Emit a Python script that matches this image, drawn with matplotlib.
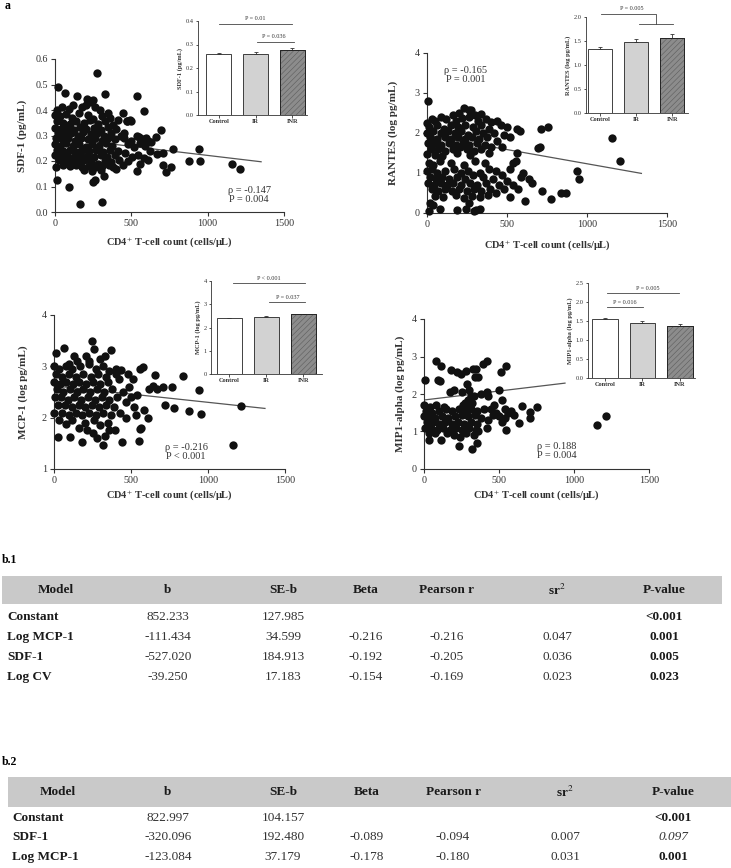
import matplotlib

matplotlib.use("Agg")
import matplotlib.pyplot as plt
from matplotlib.patches import Rectangle

plt.rcParams["font.family"] = ["Liberation Serif", "DejaVu Serif"]
plt.rcParams["mathtext.fontset"] = "stix"
plt.rcParams["hatch.linewidth"] = 0.4

W, H = 731, 868

GROUPS = ["Control", "IR", "INR"]
CD4_TICKS = [0, 500, 1000, 1500]

# --- SDF-1 ---
SDF1_CD4 = [
    277, 22, 65, 142, 211, 327, 540, 582, 235, 250,
    10, 45, 90, 120, 175, 200, 265, 295, 345, 445,
    0, 30, 70, 110, 160, 215, 250, 310, 360, 470,
    15, 55, 95, 135, 190, 230, 280, 330, 380, 490,
    0, 40, 80, 125, 165, 205, 255, 300, 350, 400,
    20, 60, 105, 150, 185, 235, 275, 320, 370, 430,
    5, 45, 85, 130, 170, 215, 260, 305, 345, 395,
    450, 500, 535, 560, 610, 632, 660, 597, 520, 475,
    0, 30, 70, 115, 160, 200, 245, 290, 335, 375,
    15, 55, 100, 140, 180, 225, 270, 315, 360, 415,
    0, 40, 80, 125, 165, 210, 255, 300, 340, 390,
    25, 65, 110, 150, 190, 235, 280, 325, 370, 420,
    50, 95, 140, 180, 220, 265, 310, 355, 400, 445,
    460, 505, 545, 580, 620, 665, 708, 480, 555, 590,
    190, 240, 300, 380, 538, 706, 724, 758, 693, 774,
    7, 11, 94, 164, 305, 250, 262, 320, 878, 944,
    952, 1160, 1210, 610, 469, 497, 551, 578, 410, 455,
]
SDF1_LEVEL = [
    0.545, 0.49, 0.466, 0.453, 0.445, 0.462, 0.456, 0.397, 0.43, 0.44,
    0.40, 0.41, 0.405, 0.42, 0.41, 0.42, 0.41, 0.40, 0.39, 0.39,
    0.38, 0.375, 0.385, 0.37, 0.39, 0.38, 0.365, 0.375, 0.37, 0.355,
    0.355, 0.35, 0.345, 0.355, 0.35, 0.36, 0.345, 0.355, 0.34, 0.36,
    0.33, 0.325, 0.33, 0.32, 0.335, 0.325, 0.33, 0.32, 0.335, 0.325,
    0.31, 0.305, 0.31, 0.30, 0.315, 0.305, 0.31, 0.30, 0.31, 0.30,
    0.29, 0.285, 0.29, 0.28, 0.29, 0.285, 0.29, 0.28, 0.29, 0.285,
    0.29, 0.28, 0.30, 0.27, 0.28, 0.276, 0.293, 0.29, 0.255, 0.265,
    0.265, 0.26, 0.27, 0.26, 0.265, 0.255, 0.265, 0.26, 0.27, 0.26,
    0.245, 0.24, 0.245, 0.235, 0.245, 0.24, 0.245, 0.235, 0.245, 0.24,
    0.225, 0.22, 0.225, 0.215, 0.225, 0.22, 0.215, 0.225, 0.215, 0.225,
    0.205, 0.20, 0.205, 0.195, 0.205, 0.20, 0.19, 0.20, 0.195, 0.205,
    0.185, 0.18, 0.185, 0.175, 0.18, 0.175, 0.18, 0.185, 0.17, 0.185,
    0.23, 0.215, 0.225, 0.21, 0.24, 0.226, 0.23, 0.20, 0.19, 0.26,
    0.165, 0.16, 0.165, 0.175, 0.16, 0.186, 0.158, 0.177, 0.322, 0.247,
    0.177, 0.127, 0.098, 0.030, 0.038, 0.118, 0.125, 0.14, 0.201, 0.247,
    0.200, 0.188, 0.168, 0.204, 0.355, 0.355, 0.295, 0.285, 0.36, 0.31,
]
SDF1_FIT_X = [0, 1350]
SDF1_FIT_Y = [0.293, 0.197]
SDF1_TICKS = [0.0, 0.1, 0.2, 0.3, 0.4, 0.5, 0.6]
SDF1_MEAN = [0.259, 0.261, 0.277]
SDF1_SEM = [0.004, 0.008, 0.006]
SDF1_INSET_TICKS = [0.0, 0.1, 0.2, 0.3, 0.4]

# --- RANTES ---
RANTES_CD4 = [
    6, 230, 260, 278, 200, 300, 160, 340, 90, 30,
    0, 50, 120, 180, 220, 260, 320, 370, 400, 440,
    15, 65, 105, 150, 195, 240, 285, 335, 385, 460,
    0, 40, 85, 130, 175, 215, 255, 305, 350, 420,
    20, 60, 110, 150, 195, 240, 280, 325, 375, 480,
    5, 45, 90, 135, 180, 225, 265, 310, 360, 440,
    25, 70, 115, 160, 205, 250, 295, 340, 400, 470,
    0, 50, 95, 185, 270, 385, 520, 560, 580, 500,
    10, 40, 80, 150, 230, 300, 360, 540, 555, 520,
    0, 30, 65, 110, 170, 210, 255, 330, 390, 430,
    20, 55, 95, 135, 190, 240, 285, 350, 410, 470,
    5, 45, 85, 125, 165, 215, 270, 310, 370, 450,
    30, 70, 115, 155, 200, 250, 295, 340, 395, 500,
    50, 100, 180, 230, 280, 330, 380, 430, 480, 540,
    12, 79, 188, 246, 294, 309, 330, 20, 40, 260,
    1159, 1207, 940, 950, 773, 836, 869, 710, 758, 696,
    705, 610, 716, 654, 640, 570, 590, 520, 600, 560,
]
RANTES_LEVEL = [
    2.80, 2.62, 2.58, 2.58, 2.50, 2.45, 2.45, 2.47, 2.40, 2.35,
    2.25, 2.30, 2.35, 2.30, 2.38, 2.40, 2.30, 2.35, 2.28, 2.30,
    2.15, 2.20, 2.10, 2.20, 2.15, 2.20, 2.15, 2.20, 2.10, 2.20,
    2.00, 2.05, 2.00, 2.05, 2.00, 2.05, 1.95, 2.05, 2.00, 2.00,
    1.90, 1.85, 1.90, 1.85, 1.90, 1.85, 1.90, 1.85, 1.90, 1.95,
    1.75, 1.75, 1.70, 1.75, 1.70, 1.75, 1.70, 1.75, 1.70, 1.80,
    1.60, 1.60, 1.55, 1.60, 1.65, 1.60, 1.55, 1.60, 1.65, 1.65,
    1.48, 1.45, 1.42, 1.50, 1.45, 1.50, 1.90, 2.10, 2.05, 2.15,
    1.25, 1.20, 1.30, 1.25, 1.20, 1.30, 1.25, 1.25, 1.30, 1.10,
    1.05, 1.10, 1.00, 1.05, 1.10, 1.00, 1.05, 1.00, 1.10, 1.05,
    0.90, 0.85, 0.90, 0.85, 0.90, 0.85, 0.95, 0.90, 0.85, 0.95,
    0.75, 0.70, 0.75, 0.70, 0.75, 0.70, 0.75, 0.70, 0.75, 0.70,
    0.60, 0.55, 0.60, 0.55, 0.60, 0.55, 0.60, 0.55, 0.60, 0.80,
    0.42, 0.40, 0.45, 0.38, 0.42, 0.40, 0.45, 0.50, 0.60, 0.70,
    0.05, 0.11, 0.08, 0.11, 0.05, 0.07, 0.11, 0.25, 0.20, 0.25,
    1.87, 1.31, 1.05, 0.86, 0.36, 0.49, 0.49, 2.09, 2.14, 1.63,
    1.64, 0.29, 0.55, 0.75, 0.85, 0.60, 0.90, 0.40, 1.00, 1.50,
]
RANTES_FIT_X = [0, 1340]
RANTES_FIT_Y = [1.94, 0.99]
RANTES_TICKS = [0, 1, 2, 3, 4]
RANTES_MEAN = [1.34, 1.47, 1.57]
RANTES_SEM = [0.04, 0.07, 0.08]
RANTES_INSET_TICKS = [0.0, 0.5, 1.0, 1.5, 2.0]

# --- MCP-1 ---
MCP1_CD4 = [
    247, 260, 369, 65, 11, 210, 300, 150, 100, 330,
    0, 35, 75, 120, 170, 225, 270, 315, 360, 438,
    15, 55, 95, 140, 190, 240, 285, 335, 400, 481,
    0, 40, 80, 125, 165, 210, 255, 300, 350, 420,
    20, 60, 105, 150, 190, 235, 280, 325, 375, 450,
    5, 45, 90, 130, 175, 220, 265, 310, 360, 410,
    25, 70, 115, 160, 200, 245, 290, 340, 390, 470,
    0, 50, 95, 140, 185, 230, 275, 320, 370, 430,
    30, 120, 200, 260, 350, 76, 215, 395, 300, 160,
    26, 102, 184, 319, 444, 551, 557, 568, 583, 611,
    575, 557, 655, 666, 705, 763, 724, 778, 839, 878,
    943, 956, 1164, 1212, 500, 520, 540, 490, 530, 470,
    250, 330, 360, 280, 230, 130, 400, 510, 620, 640,
]
MCP1_LEVEL = [
    3.49, 3.34, 3.31, 3.36, 3.25, 3.20, 3.15, 3.10, 3.05, 3.20,
    3.00, 2.95, 3.00, 2.95, 3.00, 3.05, 2.95, 3.00, 2.90, 2.93,
    2.85, 2.80, 2.85, 2.80, 2.85, 2.80, 2.85, 2.80, 2.85, 2.86,
    2.70, 2.65, 2.70, 2.65, 2.70, 2.65, 2.70, 2.65, 2.70, 2.75,
    2.55, 2.50, 2.55, 2.50, 2.55, 2.50, 2.55, 2.50, 2.55, 2.50,
    2.40, 2.40, 2.35, 2.40, 2.35, 2.40, 2.35, 2.40, 2.35, 2.40,
    2.25, 2.25, 2.20, 2.25, 2.20, 2.25, 2.20, 2.25, 2.20, 2.30,
    2.10, 2.10, 2.05, 2.10, 2.05, 2.10, 2.05, 2.10, 2.05, 2.10,
    1.95, 1.95, 1.90, 1.95, 1.90, 1.87, 1.76, 1.76, 1.85, 1.80,
    1.62, 1.62, 1.52, 1.46, 1.52, 1.54, 1.78, 1.80, 2.15, 1.99,
    2.98, 2.94, 2.84, 2.56, 2.60, 2.60, 2.24, 2.19, 2.82, 2.13,
    2.53, 2.07, 1.47, 2.23, 2.40, 2.20, 2.45, 2.60, 2.05, 2.00,
    1.70, 1.65, 1.75, 1.60, 3.10, 3.20, 2.95, 2.75, 2.55, 2.62,
]
MCP1_FIT_X = [0, 1370]
MCP1_FIT_Y = [2.62, 2.18]
MCP1_TICKS = [1, 2, 3, 4]
MCP1_MEAN = [2.39, 2.46, 2.56]
MCP1_SEM = [0.03, 0.02, 0.02]
MCP1_INSET_TICKS = [0, 1, 2, 3, 4]

# --- MIP1-alpha ---
MIP1_CD4 = [
    7, 82, 115, 90, 105, 393, 420, 327, 349, 282,
    220, 244, 182, 340, 360, 287, 420, 430, 380, 544,
    511, 500, 522, 549, 320, 353, 233, 31, 111, 1156,
    1211, 755, 709, 704, 653, 636, 560, 580, 540, 600,
    0, 40, 80, 130, 170, 200, 250, 300, 330, 290,
    10, 55, 100, 145, 185, 230, 270, 310, 350, 400,
    0, 35, 75, 120, 160, 205, 250, 295, 340, 380,
    20, 60, 100, 140, 185, 225, 265, 310, 355, 430,
    5, 45, 85, 125, 170, 215, 255, 300, 345, 460,
    30, 70, 150, 200, 240, 280, 330, 360, 420, 480,
    270, 320, 300, 310, 260, 450, 500, 520, 470, 540,
]
MIP1_LEVEL = [
    2.38, 2.87, 2.76, 2.38, 2.35, 2.81, 2.88, 2.67, 2.67, 2.61,
    2.60, 2.54, 2.63, 2.45, 2.45, 2.28, 2.05, 1.95, 2.00, 2.76,
    2.60, 2.12, 1.83, 1.04, 0.52, 0.70, 0.62, 0.78, 0.78, 1.16,
    1.42, 1.65, 1.36, 1.51, 1.67, 1.23, 1.50, 1.55, 1.35, 1.45,
    1.70, 1.65, 1.70, 1.65, 2.05, 2.10, 2.05, 2.10, 1.95, 1.85,
    1.55, 1.50, 1.55, 1.60, 1.55, 1.60, 1.55, 1.60, 1.55, 1.60,
    1.40, 1.40, 1.35, 1.40, 1.35, 1.40, 1.45, 1.40, 1.45, 1.35,
    1.25, 1.25, 1.20, 1.25, 1.20, 1.25, 1.20, 1.25, 1.20, 1.30,
    1.10, 1.10, 1.05, 1.10, 1.05, 1.10, 1.05, 1.10, 1.05, 1.45,
    0.95, 0.95, 0.95, 0.90, 0.85, 0.95, 0.90, 1.00, 1.10, 1.50,
    1.75, 1.75, 1.65, 1.95, 1.70, 1.60, 1.40, 1.25, 1.70, 1.60,
]
MIP1_FIT_X = [0, 940]
MIP1_FIT_Y = [1.84, 2.29]
MIP1_TICKS = [0, 1, 2, 3, 4]
MIP1_MEAN = [1.55, 1.44, 1.38]
MIP1_SEM = [0.03, 0.07, 0.04]
MIP1_INSET_TICKS = [0.0, 0.5, 1.0, 1.5, 2.0, 2.5]

# --- regression tables ---
HEADERS = ["Model", "b", "SE-b", "Beta", "Pearson r", "sr$^{2}$", "P-value"]
T1_NAMES = ["Constant", "Log MCP-1", "SDF-1", "Log CV"]
T1_B = ["852.233", "-111.434", "-527.020", "-39.250"]
T1_SEB = ["127.985", "34.599", "184.913", "17.183"]
T1_BETA = ["", "-0.216", "-0.192", "-0.154"]
T1_R = ["", "-0.216", "-0.205", "-0.169"]
T1_SR2 = ["", "0.047", "0.036", "0.023"]
T1_P = ["<0.001", "0.001", "0.005", "0.023"]
T1_SIG = [True, True, True, True]

T2_NAMES = ["Constant", "SDF-1", "Log MCP-1"]
T2_B = ["822.997", "-320.096", "-123.084"]
T2_SEB = ["104.157", "192.480", "37.179"]
T2_BETA = ["", "-0.089", "-0.178"]
T2_R = ["", "-0.094", "-0.180"]
T2_SR2 = ["", "0.007", "0.031"]
T2_P = ["<0.001", "0.097", "0.001"]
T2_SIG = [True, False, True]

XLABEL = "CD4$^{+}$ T-cell count (cells/\u03bcL)"


def px_axes(fig, left, top, right, bottom):
    return fig.add_axes([left / W, 1 - bottom / H, (right - left) / W, (bottom - top) / H])


def ftext(fig, px, py, s, **kw):
    return fig.text(px / W, 1 - py / H, s, **kw)


def draw_scatter(fig, box, cd4, level, fit_x, fit_y, yticks, ylabels, ylabel, ylabel_px, xlabel_py, stat, stat_xy):
    left, top, right, bottom = box
    ax = px_axes(fig, left, top, right, bottom)
    ax.plot(fit_x, fit_y, color="#555555", linewidth=0.9, zorder=2)
    ax.scatter(cd4, level, s=36, color="#111111", linewidths=0, zorder=3, clip_on=False)
    ax.set_xlim(0, 1500)
    ax.set_ylim(yticks[0], yticks[-1])
    ax.set_xticks(CD4_TICKS)
    ax.set_xticklabels([str(t) for t in CD4_TICKS])
    ax.set_yticks(yticks)
    ax.set_yticklabels(ylabels)
    ax.spines[["top", "right"]].set_visible(False)
    for side in ("left", "bottom"):
        ax.spines[side].set_linewidth(0.8)
        ax.spines[side].set_color("#333333")
    ax.tick_params(direction="out", length=3, width=0.8, color="#333333",
                   labelsize=7.3, pad=2, labelcolor="#333333")
    ax.patch.set_alpha(0)

    ftext(fig, ylabel_px, (top + bottom) / 2, ylabel, rotation=90, ha="center",
          va="center", fontsize=8, fontweight="bold", color="#333333")
    ftext(fig, (left + right) / 2, xlabel_py, XLABEL, ha="center", va="center",
          fontsize=7.5, fontweight="bold", color="#333333")
    ftext(fig, stat_xy[0], stat_xy[1], stat, ha="center", va="center",
          multialignment="center", fontsize=7.5, color="#333333", linespacing=1.1)
    return ax


def draw_inset(fig, box, xlim, means, sems, yticks, ylabels, ylabel, lines, notes):
    left, top, right, bottom = box
    ax = px_axes(fig, left, top, right, bottom)
    pos = list(range(len(GROUPS)))
    ax.errorbar(pos, means, yerr=[[0] * len(sems), sems], fmt="none", ecolor="#333333",
                elinewidth=0.6, capsize=1.6, capthick=0.6, zorder=1)
    ax.bar(pos, means, width=0.68, color=["white", "#d2d2d2", "#8c8c8c"],
           edgecolor="#222222", linewidth=0.6, zorder=2)
    ax.bar(pos[2:], means[2:], width=0.68, color="none", edgecolor="#5c5c5c",
           hatch="//////", linewidth=0, zorder=3)
    ax.bar(pos[2:], means[2:], width=0.68, color="none", edgecolor="#222222",
           linewidth=0.6, zorder=4)
    ax.set_xlim(*xlim)
    ax.set_ylim(yticks[0], yticks[-1])
    ax.set_xticks(pos)
    ax.set_xticklabels(GROUPS, fontweight="bold")
    ax.set_yticks(yticks)
    ax.set_yticklabels(ylabels)
    ax.spines[["top", "right"]].set_visible(False)
    for side in ("left", "bottom"):
        ax.spines[side].set_linewidth(0.6)
        ax.spines[side].set_color("#333333")
    ax.tick_params(direction="out", length=1.8, width=0.6, color="#333333",
                   labelsize=4.6, pad=1.2, labelcolor="#333333")
    ax.set_ylabel(ylabel, fontsize=4.6, fontweight="bold", labelpad=2, color="#333333")
    for xs, ys in lines:
        ax.plot(xs, ys, color="#444444", linewidth=0.6, clip_on=False)
    for x, y, s in notes:
        ax.text(x, y, s, ha="center", va="bottom", fontsize=4.4, color="#333333", clip_on=False)
    return ax


def draw_table(fig, label, label_py, band, header_py, col_px, name_px, row_py,
               names, columns, p_vals, p_sig):
    ftext(fig, 2, label_py, label, ha="left", va="center", fontsize=8.5, fontweight="bold")
    x0, x1, y0, y1 = band
    fig.add_artist(Rectangle((x0 / W, 1 - y1 / H), (x1 - x0) / W, (y1 - y0) / H,
                             transform=fig.transFigure, facecolor="#c9c9c9", edgecolor="none"))
    for x, head in zip(col_px, HEADERS):
        ftext(fig, x, header_py, head, ha="center", va="center", fontsize=9.5,
              fontweight="bold", color="#1a1a1a")
    for i, py in enumerate(row_py):
        ftext(fig, name_px, py, names[i], ha="left", va="center", fontsize=9.5,
              fontweight="bold", color="#1a1a1a")
        for x, col in zip(col_px[1:-1], columns):
            ftext(fig, x, py, col[i], ha="center", va="center", fontsize=9.5, color="#333333")
        if p_sig[i]:
            ftext(fig, col_px[-1], py, p_vals[i], ha="center", va="center", fontsize=9.5,
                  fontweight="bold", color="#1a1a1a")
        else:
            ftext(fig, col_px[-1], py, p_vals[i], ha="center", va="center", fontsize=9.5,
                  fontstyle="italic", color="#333333")


fig = plt.figure(figsize=(W / 100, H / 100), dpi=100, facecolor="white")

ftext(fig, 5, 6, "a", ha="left", va="center", fontsize=8.5, fontweight="bold")

draw_scatter(fig, (55, 59, 284, 212), SDF1_CD4, SDF1_LEVEL, SDF1_FIT_X, SDF1_FIT_Y,
             SDF1_TICKS, [f"{t:.1f}" for t in SDF1_TICKS], "SDF-1 (pg/mL)", 22, 242,
             "\u03c1 = -0.147\nP = 0.004", (249, 195))
draw_scatter(fig, (427, 53, 667, 213), RANTES_CD4, RANTES_LEVEL, RANTES_FIT_X, RANTES_FIT_Y,
             RANTES_TICKS, [str(t) for t in RANTES_TICKS], "RANTES (log pg/mL)", 393, 245,
             "\u03c1 = -0.165\nP = 0.001", (466, 75))
draw_scatter(fig, (54, 315, 285, 469), MCP1_CD4, MCP1_LEVEL, MCP1_FIT_X, MCP1_FIT_Y,
             MCP1_TICKS, [str(t) for t in MCP1_TICKS], "MCP-1 (log pg/mL)", 23, 495,
             "\u03c1 = -0.216\nP < 0.001", (186, 452))
draw_scatter(fig, (424, 319, 649, 469), MIP1_CD4, MIP1_LEVEL, MIP1_FIT_X, MIP1_FIT_Y,
             MIP1_TICKS, [str(t) for t in MIP1_TICKS], "MIP1-alpha (log pg/mL)", 400, 495,
             "\u03c1 = 0.188\nP = 0.004", (557, 451))

draw_inset(fig, (198, 21, 307, 115), (-0.57, 2.4), SDF1_MEAN, SDF1_SEM,
           SDF1_INSET_TICKS, [f"{t:.1f}" for t in SDF1_INSET_TICKS], "SDF-1 (pg/mL)",
           [([0.0, 2.0], [0.387, 0.387]), ([1.03, 2.05], [0.31, 0.31])],
           [(1.0, 0.398, "P = 0.01"), (1.5, 0.322, "P = 0.036")])
draw_inset(fig, (586, 17, 688, 113), (-0.39, 2.44), RANTES_MEAN, RANTES_SEM,
           RANTES_INSET_TICKS, [f"{t:.1f}" for t in RANTES_INSET_TICKS], "RANTES (log pg/mL)",
           [([0.03, 1.55, 1.55], [2.06, 2.06, 1.85]), ([1.08, 2.03], [1.85, 1.85])],
           [(0.89, 2.12, "P = 0.005")])
draw_inset(fig, (211, 281, 322, 374), (-0.49, 2.5), MCP1_MEAN, MCP1_SEM,
           MCP1_INSET_TICKS, [str(t) for t in MCP1_INSET_TICKS], "MCP-1 (log pg/mL)",
           [([0.1, 2.03], [3.91, 3.91]), ([1.08, 2.03], [3.1, 3.1])],
           [(1.08, 3.98, "P < 0.001"), (1.57, 3.17, "P = 0.037")])
draw_inset(fig, (588, 283, 695, 378), (-0.45, 2.4), MIP1_MEAN, MIP1_SEM,
           MIP1_INSET_TICKS, [f"{t:.1f}" for t in MIP1_INSET_TICKS], "MIP1-alpha (log pg/mL)",
           [([0.05, 1.97], [2.24, 2.24]), ([0.05, 1.01], [1.87, 1.87])],
           [(1.15, 2.29, "P = 0.005"), (0.53, 1.92, "P = 0.016")])

draw_table(fig, "b.1", 560, (2, 722, 576, 604), 590,
           [56, 168, 283, 366, 447, 557, 664], 7, [617, 637, 657, 677],
           T1_NAMES, [T1_B, T1_SEB, T1_BETA, T1_R, T1_SR2], T1_P, T1_SIG)
draw_table(fig, "b.2", 762, (8, 731, 777, 807), 792,
           [58, 168, 283, 367, 453, 565, 673], 12, [818, 837, 857],
           T2_NAMES, [T2_B, T2_SEB, T2_BETA, T2_R, T2_SR2], T2_P, T2_SIG)

fig.savefig("out.png", dpi=100, facecolor="white")
plt.close(fig)
